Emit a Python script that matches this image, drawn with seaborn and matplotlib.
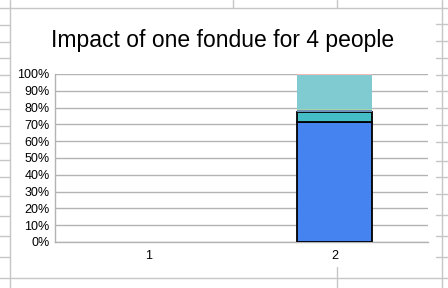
import matplotlib
matplotlib.use("Agg")
import matplotlib.pyplot as plt
from matplotlib.lines import Line2D
import seaborn as sns
import pandas as pd
import numpy as np

# ---- data ----
categories = ["1", "2"]
series_names = ["s1", "s2", "s3", "s4", "s5", "s6"]
s1 = [0.0, 71.6]
s2 = [0.0, 6.0]
s3 = [0.0, 0.8]
s4 = [0.0, 0.6]
s5 = [0.0, 20.6]
s6 = [0.0, 0.4]
series_values = [s1, s2, s3, s4, s5, s6]
y_ticks = [0, 10, 20, 30, 40, 50, 60, 70, 80, 90, 100]
y_tick_labels = [f"{v}%" for v in y_ticks]
title = "Impact of one fondue for 4 people"

colors = ["#4584f0", "#45bdc6", "#6f93b8", "#a4d4a8", "#7fcbd1", "#f6b8b8"]
edges = ["#000000", "#000000", "none", "none", "none", "none"]
edge_w = [1.3, 1.3, 0, 0, 0, 0]

sns.set_theme(style="white")
plt.rcParams["font.family"] = ["Liberation Sans", "DejaVu Sans"]

W, H = 448, 288
fig = plt.figure(figsize=(W / 100, H / 100), dpi=100)
fig.patch.set_facecolor("white")

# spreadsheet background grid lines (figure pixel coords)
gc = "#c6c6c6"
def fl(x0, y0, x1, y1):
    fig.add_artist(Line2D([x0 / W, x1 / W], [1 - y0 / H, 1 - y1 / H],
                          color=gc, lw=1.0, transform=fig.transFigure))
fl(10, 0, 10, 288)
fl(441.7, 0, 441.7, 288)
fl(0, 8, 448, 8)
fl(0, 278, 448, 278)
for y in [25, 42, 58, 75, 92, 109, 126, 143, 160, 177, 196, 216, 236, 257]:
    fl(0, y, 10, y)
for y in [24, 41, 58, 75, 91.5, 108, 125, 142, 160.7, 177, 194, 215, 236, 257]:
    fl(436, y, 448, y)
fl(233, 0, 233, 8)
fl(337, 0, 337, 8)
fl(337, 267, 337, 288)

ax = fig.add_axes([55 / W, 1 - 242 / H, (428 - 55) / W, (242 - 74) / H])
ax.set_facecolor("white")

bottom = np.zeros(len(categories))
for name, vals, c, ec, lw in zip(series_names, series_values, colors, edges, edge_w):
    sns.barplot(x=categories, y=vals, bottom=bottom, width=0.4, color=c,
                edgecolor=ec, linewidth=lw, ax=ax, order=categories,
                saturation=1, zorder=3)
    bottom = bottom + np.array(vals)

# hide empty (zero-height) bars
for p in ax.patches:
    if p.get_height() == 0:
        p.set_visible(False)

ax.set_xlim(-0.5, 1.5)
ax.set_ylim(0, 100)
ax.set_yticks(y_ticks)
ax.set_yticklabels(y_tick_labels)
ax.yaxis.grid(True, color="#b3b3b3", lw=1.0, zorder=0)
ax.set_axisbelow(True)
ax.tick_params(axis="both", length=0, labelsize=9, colors="#000000", pad=4)
ax.tick_params(axis="x", pad=6)
for side in ["top", "right"]:
    ax.spines[side].set_visible(False)
for side in ["left", "bottom"]:
    ax.spines[side].set_color("#b3b3b3")
    ax.spines[side].set_linewidth(1.0)
ax.set_xlabel("")
ax.set_ylabel("")

fig.text(223 / W, 1 - 41 / H, title, ha="center", va="center", fontsize=16.5,
         color="#000000")

fig.savefig("out.png", dpi=100)
